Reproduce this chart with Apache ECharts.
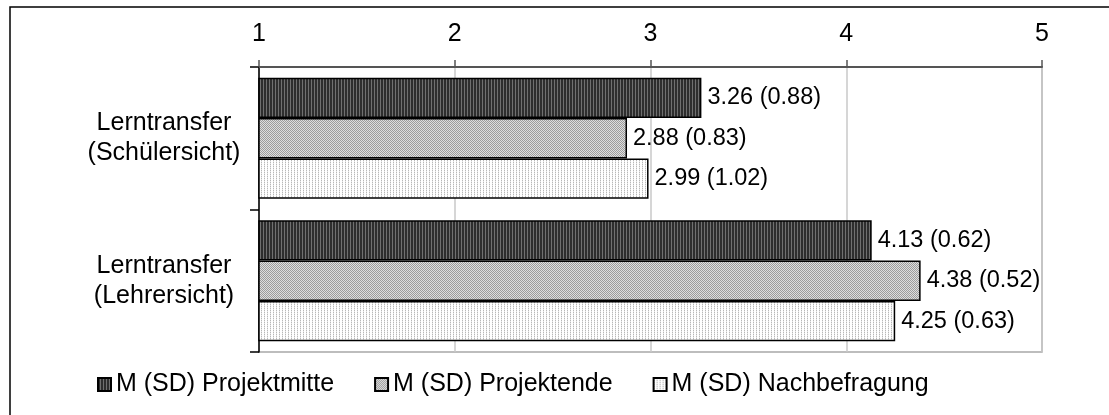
<!DOCTYPE html>
<html>
<head>
<meta charset="utf-8">
<script src="https://cdn.jsdelivr.net/npm/echarts@6/dist/echarts.min.js"></script>
<style>
  html, body { margin: 0; padding: 0; background: #fff; }
  #chart { width: 1109px; height: 415px; }
</style>
</head>
<body>
<div id="chart"></div>
<script>
// Categories (top to bottom) and values: mean and SD per survey wave
const categories = ['Lerntransfer\n(Schülersicht)', 'Lerntransfer\n(Lehrersicht)'];
const seriesNames = ['M (SD) Projektmitte', 'M (SD) Projektende', 'M (SD) Nachbefragung'];
const meanMitte = [3.26, 4.13];
const meanEnde = [2.88, 4.38];
const meanNach = [2.99, 4.25];
const sdMitte = [0.88, 0.62];
const sdEnde = [0.83, 0.52];
const sdNach = [1.02, 0.63];
const tickValues = [1, 2, 3, 4, 5];

const FONT = '"Liberation Sans", Arial, sans-serif';

// Small pixel patterns used as bar fills
function makePattern(w, h, pixelFn) {
  const c = document.createElement('canvas');
  c.width = w; c.height = h;
  const ctx = c.getContext('2d');
  for (let y = 0; y < h; y++) {
    for (let x = 0; x < w; x++) {
      ctx.fillStyle = pixelFn(x, y);
      ctx.fillRect(x, y, 1, 1);
    }
  }
  return { image: c, repeat: 'repeat' };
}
const darkStripes = makePattern(3, 1, (x) => (x === 2 ? '#707070' : '#2e2e2e'));
const greyChecks = makePattern(2, 2, (x, y) => ((x + y) % 2 === 0 ? '#9c9c9c' : '#dedede'));
const lightDots = makePattern(3, 2, (x, y) => (x === 0 && y === 0 ? '#b8b8b8' : (x === 0 ? '#e6e6e6' : '#ffffff')));

function makeSeries(name, means, sds, fill) {
  return {
    name: name,
    type: 'bar',
    data: means,
    barGap: '0%',
    barCategoryGap: '15%',
    itemStyle: { color: fill, borderColor: '#000', borderWidth: 1.5 },
    label: {
      show: true,
      position: 'right',
      distance: 6,
      color: '#000',
      fontFamily: FONT,
      fontSize: 23.5,
      formatter: (p) => means[p.dataIndex].toFixed(2) + ' (' + sds[p.dataIndex].toFixed(2) + ')'
    }
  };
}

const chart = echarts.init(document.getElementById('chart'), null, { renderer: 'canvas' });
chart.setOption({
  animation: false,
  backgroundColor: '#fff',
  textStyle: { fontFamily: FONT },
  grid: {
    left: 259, right: 67, top: 67, bottom: 63,
    show: true, borderColor: '#a8a8a8', borderWidth: 1.5, backgroundColor: 'transparent'
  },
  legend: {
    left: 92, top: 367,
    itemWidth: 13, itemHeight: 13, itemGap: 40,
    icon: 'rect',
    textStyle: { fontFamily: FONT, fontSize: 25, color: '#000' },
    data: seriesNames
  },
  xAxis: {
    type: 'value',
    position: 'top',
    min: tickValues[0],
    max: tickValues[tickValues.length - 1],
    interval: 1,
    axisLine: { show: true, lineStyle: { color: '#555', width: 2 } },
    axisTick: { show: true, inside: false, length: 7, lineStyle: { color: '#555', width: 1.5 } },
    splitLine: { show: true, lineStyle: { color: '#c8c8c8', width: 1.5 } },
    axisLabel: { color: '#000', fontFamily: FONT, fontSize: 25, margin: 20 }
  },
  yAxis: {
    type: 'category',
    inverse: true,
    data: categories,
    axisLine: { show: true, lineStyle: { color: '#000', width: 1.5 } },
    axisTick: { show: true, inside: false, length: 9, lineStyle: { color: '#000', width: 1.5 } },
    axisLabel: {
      color: '#000', fontFamily: FONT, fontSize: 25, lineHeight: 30,
      align: 'center', margin: 95, padding: [14, 0, 0, 0]
    }
  },
  graphic: [{
    type: 'rect',
    shape: { x: 10, y: 7, width: 1120, height: 430 },
    style: { fill: 'none', stroke: '#000', lineWidth: 1.5 },
    silent: true
  }],
  series: [
    makeSeries(seriesNames[0], meanMitte, sdMitte, darkStripes),
    makeSeries(seriesNames[1], meanEnde, sdEnde, greyChecks),
    makeSeries(seriesNames[2], meanNach, sdNach, lightDots)
  ]
});
</script>
</body>
</html>
